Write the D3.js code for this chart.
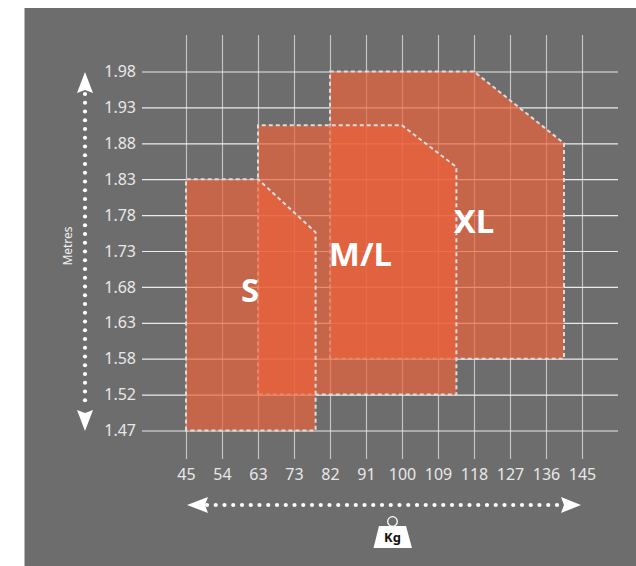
<!DOCTYPE html>
<html>
<head>
<meta charset="utf-8">
<script src="https://cdn.jsdelivr.net/npm/d3@7.9.0/dist/d3.min.js"></script>
<style>
  html, body { margin: 0; padding: 0; background: #fff; }
  svg { display: block; font-family: "Noto Sans", sans-serif; }
  .tick text { fill: #e8e8e8; font-size: 16px; font-family: "Noto Sans", sans-serif; }
</style>
</head>
<body>
<svg id="chart" width="636" height="566"></svg>
<script>
const kgTicks = [45, 54, 63, 73, 82, 91, 100, 109, 118, 127, 136, 145];
const metreTicks = [1.98, 1.93, 1.88, 1.83, 1.78, 1.73, 1.68, 1.63, 1.58, 1.52, 1.47];

const sizeNames = ['S', 'M/L', 'XL'];
const sizeKg = [
  [45, 45, 63, 78.4, 78.4],
  [63, 63, 100, 113.6, 113.6],
  [82, 82, 118, 140.5, 140.5],
];
const sizeMetres = [
  [1.47, 1.83, 1.83, 1.756, 1.47],
  [1.52, 1.905, 1.905, 1.847, 1.52],
  [1.58, 1.98, 1.98, 1.88, 1.58],
];
const labelKg = [61, 89.6, 118];
const labelMetres = [1.659, 1.709, 1.755];

const svg = d3.select('#chart');
svg.append('rect').attr('x', 24.5).attr('y', 8).attr('width', 612).attr('height', 558).attr('fill', '#6d6d6d');

// ticks are not evenly spaced in kg or metres, so the scales are piecewise
const xStep = d3.scalePoint().domain(kgTicks).range([186, 582]);
const yStep = d3.scalePoint().domain(metreTicks).range([71.5, 430.5]);
const x = d3.scaleLinear().domain(kgTicks).range(kgTicks.map((d) => xStep(d)));
const y = d3.scaleLinear().domain(metreTicks).range(metreTicks.map((d) => yStep(d)));

const xAxis = d3.axisBottom(x).tickValues(kgTicks).tickFormat((d) => d).tickSize(424).tickPadding(10);
const yAxis = d3.axisLeft(y).tickValues(metreTicks).tickFormat(d3.format('.2f')).tickSize(476).tickPadding(6);

const gx = svg.append('g').attr('transform', 'translate(0,35)').call(xAxis);
gx.select('.domain').remove();
gx.selectAll('line').attr('stroke', '#c4c4c4').attr('stroke-width', 1.2);
gx.selectAll('text').attr('text-anchor', 'middle');

const gy = svg.append('g').attr('transform', 'translate(618,0)').call(yAxis);
gy.select('.domain').remove();
gy.selectAll('line').attr('stroke', '#ececec').attr('stroke-width', 1.2);
gy.selectAll('text').attr('x', -482).attr('text-anchor', 'end');

const line = d3.line().x((d) => x(d[0])).y((d) => y(d[1])).curve(d3.curveLinearClosed);

sizeNames.slice().reverse().forEach((name) => {
  const i = sizeNames.indexOf(name);
  svg.append('path')
    .attr('d', line(d3.zip(sizeKg[i], sizeMetres[i])))
    .attr('fill', '#ec613a')
    .attr('fill-opacity', 0.69)
    .attr('stroke', '#dcdcdc')
    .attr('stroke-width', 2)
    .attr('stroke-dasharray', '4 3');
});

svg.selectAll('.size-label')
  .data(sizeNames)
  .join('text')
  .attr('class', 'size-label')
  .attr('x', (d, i) => x(labelKg[i]))
  .attr('y', (d, i) => y(labelMetres[i]))
  .attr('text-anchor', 'middle')
  .attr('fill', '#fff')
  .attr('font-size', 33)
  .attr('font-weight', 700)
  .text((d) => d);

// dotted arrows
const dots = svg.append('g').attr('fill', '#fff');
d3.range(94, 409, 8.75).forEach((cy) => dots.append('circle').attr('cx', 85).attr('cy', cy).attr('r', 2.1));
d3.range(207, 563, 8.75).forEach((cx) => dots.append('circle').attr('cx', cx).attr('cy', 505).attr('r', 2.1));
dots.append('path').attr('d', 'M85,72 L93,93 L85,90 L77,93 Z');
dots.append('path').attr('d', 'M85,431 L93,410 L85,413 L77,410 Z');
dots.append('path').attr('d', 'M187,505 L208,497 L205,505 L208,513 Z');
dots.append('path').attr('d', 'M581,505 L561,497 L564,505 L561,513 Z');

svg.append('text')
  .attr('transform', 'translate(72,246) rotate(-90)')
  .attr('text-anchor', 'middle')
  .attr('fill', '#f0f0f0')
  .attr('font-size', 12)
  .text('Metres');

// weight icon
const weight = svg.append('g');
weight.append('circle').attr('cx', 392.5).attr('cy', 521.5).attr('r', 4.8).attr('fill', 'none').attr('stroke', '#fff').attr('stroke-width', 1.3);
weight.append('path').attr('d', 'M379,526 L406,526 L412,548 L373.5,548 Z').attr('fill', '#fff');
weight.append('text')
  .attr('x', 392.5).attr('y', 542)
  .attr('text-anchor', 'middle')
  .attr('fill', '#111')
  .attr('font-size', 13)
  .attr('font-weight', 700)
  .text('Kg');
</script>
</body>
</html>
